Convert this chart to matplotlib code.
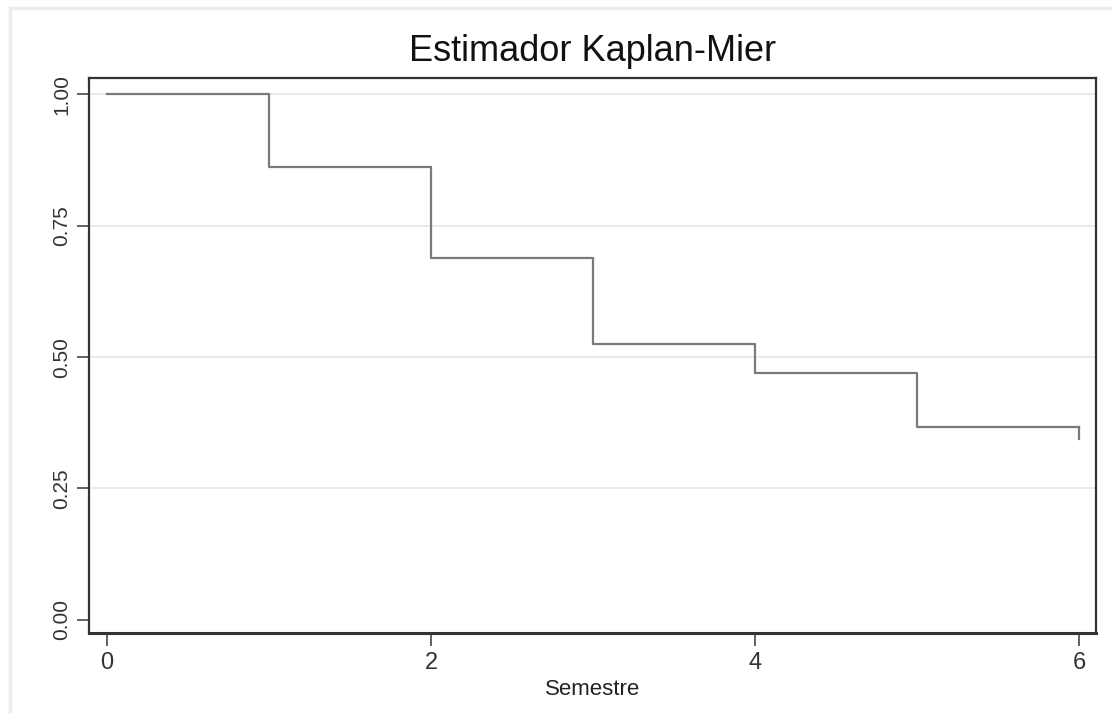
import matplotlib
matplotlib.use("Agg")
import matplotlib.pyplot as plt
from matplotlib.lines import Line2D

# -------------------------
# DADOS
# -------------------------
semestre = [0, 1, 2, 3, 4, 5, 6]
sobrevivencia = [1.0, 0.862, 0.689, 0.525, 0.469, 0.367, 0.367]
fim_x = [6, 6]
fim_y = [0.367, 0.344]

yticks = [0.00, 0.25, 0.50, 0.75, 1.00]
ytick_labels = ["0.00", "0.25", "0.50", "0.75", "1.00"]
xticks = [0, 2, 4, 6]

plt.rcParams['font.family'] = ['Liberation Sans', 'DejaVu Sans']

fig = plt.figure(figsize=(11.12, 7.13), dpi=100)
ax = fig.add_axes([0.080, 0.1122, 0.9056, 0.7784])

# moldura clara da página
fig.add_artist(Line2D([0.009, 0.009], [0, 0.989], color="#ececec", lw=2.5,
                      transform=fig.transFigure))
fig.add_artist(Line2D([0.009, 1], [0.989, 0.989], color="#ececec", lw=2.5,
                      transform=fig.transFigure))

# grelha
for v in yticks[1:]:
    ax.axhline(v, color="#e6e6e6", lw=1.2, zorder=0)

# curva Kaplan-Meier
ax.step(semestre, sobrevivencia, where="post", color="#7a7a7a", lw=1.6)
ax.plot(fim_x, fim_y, color="#7a7a7a", lw=1.6)

ax.set_xlim(-0.111, 6.105)
ax.set_ylim(-0.025, 1.031)

ax.set_xticks(xticks)
ax.set_yticks(yticks)
ax.set_yticklabels(ytick_labels, rotation=90, va="center")
ax.tick_params(axis="both", length=9, width=1.3,
               color="#555555", labelcolor="#333333")
ax.tick_params(axis="y", labelsize=15, pad=4)
ax.tick_params(axis="x", labelsize=17, pad=5)

for s in ax.spines.values():
    s.set_color("#333333")
    s.set_linewidth(1.6)
ax.spines["bottom"].set_linewidth(2.2)

ax.set_xlabel("Semestre", fontsize=16, color="#222222", labelpad=3)
ax.set_title("Estimador Kaplan-Mier", fontsize=26, color="#111111", pad=12)

fig.savefig("out.png", dpi=100, facecolor="white")
